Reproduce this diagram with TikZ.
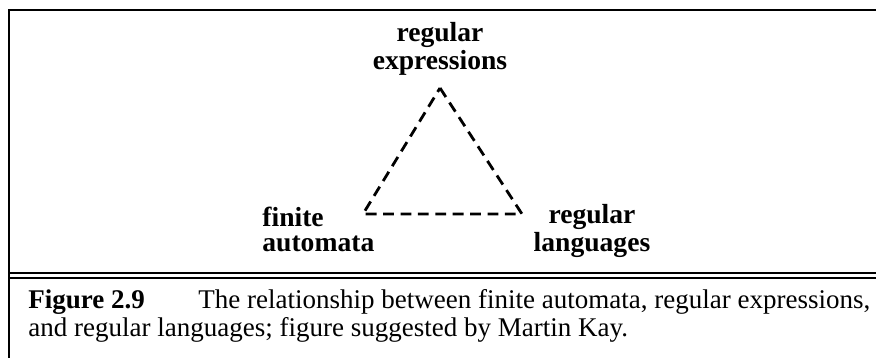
\documentclass[tikz,border=0pt]{standalone}
\usepackage{fontspec}
\setmainfont{Liberation Serif}
\usetikzlibrary{positioning}

\begin{document}
\begin{tikzpicture}[x=0.5pt,y=-0.5pt,
		rule/.style={line width=1.2pt},
		side/.style={dash pattern=on 5.4pt off 3.3pt, line width=1.4pt},
		corner/.style={font=\fontsize{13.8}{12.5}\selectfont\bfseries, inner sep=0pt},
		caption/.style={font=\fontsize{13.5}{16}\selectfont, inner sep=0pt, anchor=base west}
	]
	\useasboundingbox (0,0) rectangle (876,358);

	% frame and rules
	\coordinate (f_tl) at (9,10);
	\coordinate (f_tr) at (876,10);
	\coordinate (f_bl) at (9,358);
	\draw[rule] (f_tr) -- (f_tl) -- (f_bl);
	\coordinate (d_1) at (9,272.8);
	\coordinate (d_2) at (9,277.8);
	\draw[line width=1.1pt] (d_1) -- (d_1 -| f_tr);
	\draw[line width=1.1pt] (d_2) -- (d_2 -| f_tr);

	% triangle
	\coordinate (re) at (440,88);
	\coordinate (fa) at (363,214);
	\coordinate (rl) at (522,214);
	\draw[side] (re) -- (rl) -- (fa) -- cycle;

	\node[corner, align=center, anchor=base] (re_label) at (440,69) {regular\\expressions};
	\node[corner, align=left, anchor=base west] (fa_label) at (262,251) {finite\\automata};
	\node[corner, align=center, anchor=base] (rl_label) at (592,251) {regular\\languages};

	% caption
	\node[caption] (fig_no) at (28,308) {\textbf{Figure 2.9}};
	\node[caption] (cap_1) at (198,308) {The relationship between finite automata, regular expressions,};
	\node[caption] (cap_2) at (28,336) {and regular languages; figure suggested by Martin Kay.};
\end{tikzpicture}
\end{document}
